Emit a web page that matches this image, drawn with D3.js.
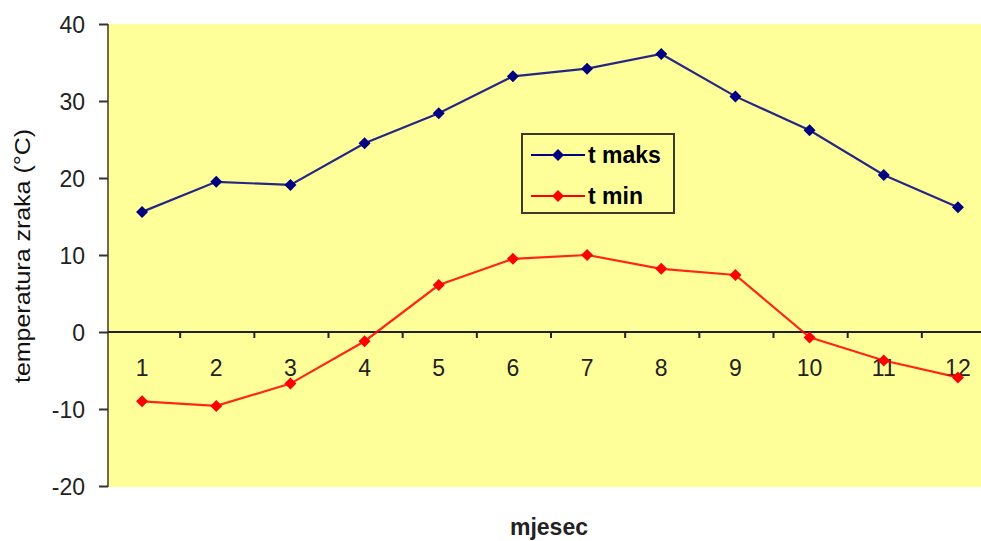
<!DOCTYPE html>
<html>
<head>
<meta charset="utf-8">
<script src="https://cdn.jsdelivr.net/npm/d3@7"></script>
<style>
  html, body { margin: 0; padding: 0; background: #ffffff; overflow: hidden; }
  svg { display: block; }
</style>
</head>
<body>
<svg id="chart" width="981" height="541"></svg>
<script>
// Monthly air temperature: maxima and minima
const months = ["1", "2", "3", "4", "5", "6", "7", "8", "9", "10", "11", "12"];
const tMaks = [15.6, 19.5, 19.1, 24.5, 28.4, 33.2, 34.2, 36.1, 30.6, 26.2, 20.4, 16.2];
const tMin  = [-9.0, -9.6, -6.7, -1.2, 6.1, 9.5, 10.0, 8.2, 7.4, -0.7, -3.7, -5.9];
const yTicks = [40, 30, 20, 10, 0, -10, -20];
const seriesNames = ["t maks", "t min"];
const seriesColors = ["#000080", "#ff0000"];

const svg = d3.select("#chart");
const font = "'Liberation Sans', Arial, sans-serif";

const plot = { left: 108, top: 24, right: 996, bottom: 487 };

const x = d3.scaleBand().domain(months).range([106, 996]);
const y = d3.scaleLinear().domain([-20, 40]).range([486, 24]);

// plot area background
svg.append("rect")
  .attr("x", plot.left).attr("y", plot.top)
  .attr("width", plot.right - plot.left).attr("height", plot.bottom - plot.top)
  .attr("fill", "#ffff99");

// value axis on the left
const yAxis = svg.append("g")
  .attr("transform", `translate(${plot.left},0)`)
  .call(d3.axisLeft(y).tickValues(yTicks).tickSize(9).tickPadding(14)
    .tickFormat(d => String(d)));
yAxis.select(".domain").attr("stroke", "#6e6a4a").attr("stroke-width", 2)
  .attr("d", `M0,${plot.top}V${plot.bottom}`);
yAxis.selectAll(".tick line").attr("stroke", "#333").attr("stroke-width", 2);
yAxis.selectAll(".tick text")
  .attr("fill", "#222").attr("dy", "0.36em")
  .style("font-family", font).style("font-size", "23px");

// category axis along zero
const xAxis = svg.append("g")
  .attr("transform", `translate(0,${y(0)})`);
xAxis.append("line")
  .attr("x1", plot.left).attr("x2", 981)
  .attr("stroke", "#222").attr("stroke-width", 2);
xAxis.selectAll("line.tk")
  .data(months.slice(1))
  .join("line").attr("class", "tk")
  .attr("x1", d => x(d)).attr("x2", d => x(d))
  .attr("y1", 0).attr("y2", 6)
  .attr("stroke", "#222").attr("stroke-width", 2);
xAxis.selectAll("text")
  .data(months)
  .join("text")
  .attr("x", d => x(d) + x.bandwidth() / 2 - 1)
  .attr("y", 44)
  .attr("text-anchor", "middle")
  .attr("fill", "#222")
  .style("font-family", font).style("font-size", "23px")
  .text(d => d);

// series lines and diamond markers
const diamond = "M0,-6L6,0L0,6L-6,0Z";
[tMaks, tMin].forEach((vals, i) => {
  const pts = vals.map((v, j) => [x(months[j]) + x.bandwidth() / 2 - 1, y(v)]);
  svg.append("path")
    .attr("d", d3.line()(pts))
    .attr("fill", "none")
    .attr("stroke", seriesColors[i])
    .attr("stroke-width", 2.2)
    .attr("opacity", 0.85);
  svg.append("g").selectAll("path")
    .data(pts)
    .join("path")
    .attr("transform", d => `translate(${d[0]},${d[1]})`)
    .attr("d", diamond)
    .attr("fill", seriesColors[i]);
});

// legend
const lg = svg.append("g").attr("transform", "translate(522,134)");
lg.append("rect")
  .attr("width", 152).attr("height", 79)
  .attr("fill", "#ffff99").attr("stroke", "#3d3a2a").attr("stroke-width", 2);
seriesNames.forEach((name, i) => {
  const cy = 21 + i * 41;
  lg.append("line")
    .attr("x1", 9).attr("x2", 63).attr("y1", cy).attr("y2", cy)
    .attr("stroke", seriesColors[i]).attr("stroke-width", 2);
  lg.append("path")
    .attr("transform", `translate(36,${cy})`)
    .attr("d", diamond)
    .attr("fill", seriesColors[i]);
  lg.append("text")
    .attr("x", 66).attr("y", cy + 8)
    .attr("fill", "#000")
    .style("font-family", font).style("font-size", "23px").style("font-weight", "bold")
    .text(name);
});

// axis titles
svg.append("text")
  .attr("transform", "translate(30,256) rotate(-90)")
  .attr("text-anchor", "middle")
  .attr("fill", "#111")
  .attr("textLength", 254).attr("lengthAdjust", "spacingAndGlyphs")
  .style("font-family", font).style("font-size", "22px")
  .text("temperatura zraka (°C)");

svg.append("text")
  .attr("x", 549).attr("y", 535)
  .attr("text-anchor", "middle")
  .attr("fill", "#222")
  .style("font-family", font).style("font-size", "23px").style("font-weight", "bold")
  .text("mjesec");
</script>
</body>
</html>
